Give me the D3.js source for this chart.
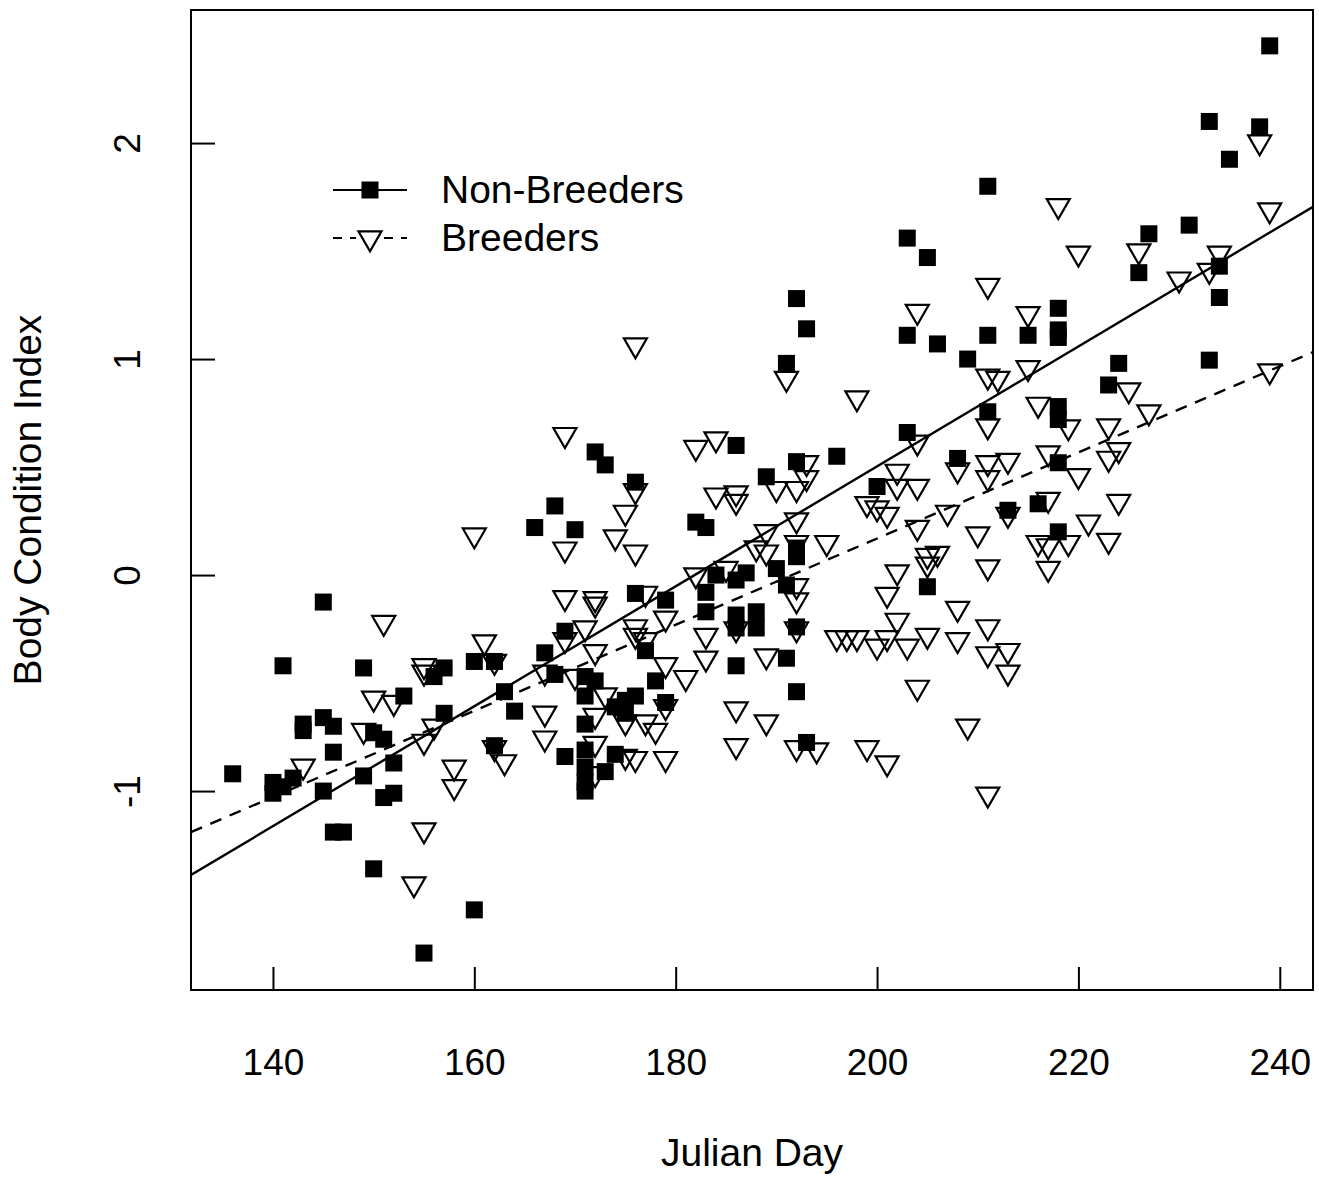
<!DOCTYPE html>
<html>
<head>
<meta charset="utf-8">
<script src="https://cdn.jsdelivr.net/npm/d3@7/dist/d3.min.js"></script>
<style>
  body { margin: 0; background: #fff; }
  text { font-family: "Liberation Sans", Arial, Helvetica, sans-serif; fill: #000; }
</style>
</head>
<body>
<div id="chart"></div>
<script>
// Non-Breeders: julian day and body condition index
const nbDay = [136, 140, 140, 141, 142, 141, 143, 143, 145, 145, 146, 146, 145, 146, 147, 149, 149, 150, 151, 150,
  152, 151, 152, 153, 156, 157, 157, 155, 160, 160, 162, 163, 164, 162, 167, 168, 169, 171, 172, 171,
  171, 174, 175, 176, 175, 177, 178, 169, 171, 171, 171, 171, 173, 174, 179, 176, 179, 172, 173, 176,
  168, 166, 170, 182, 183, 184, 186, 187, 190, 191, 192, 192, 183, 183, 186, 186, 188, 188, 186, 191,
  192, 192, 193, 186, 189, 192, 196, 192, 193, 191, 200, 203, 205, 211, 203, 205, 218, 218, 218, 203,
  206, 211, 215, 209, 211, 218, 218, 208, 218, 223, 224, 216, 213, 218, 239, 233, 238, 235, 231, 227,
  226, 234, 234, 233];
const nbBci = [-0.92, -0.96, -1.01, -0.98, -0.94, -0.42, -0.69, -0.72, -0.125, -0.66, -0.70, -0.82, -1.00, -1.19, -1.19, -0.43, -0.93, -0.73, -0.76, -1.36,
  -0.87, -1.03, -1.01, -0.56, -0.47, -0.43, -0.64, -1.75, -0.40, -1.55, -0.40, -0.54, -0.63, -0.79, -0.36, -0.46, -0.26, -0.47, -0.49, -0.56,
  -0.69, -0.61, -0.58, -0.56, -0.64, -0.35, -0.49, -0.84, -0.81, -0.89, -0.96, -1.00, -0.91, -0.83, -0.59, -0.085, -0.116, 0.57, 0.51, 0.43,
  0.32, 0.22, 0.21, 0.245, 0.22, 0.00, -0.023, 0.01, 0.03, -0.046, 0.125, 0.085, -0.08, -0.17, -0.185, -0.245, -0.17, -0.245, -0.42, -0.385,
  -0.24, -0.54, -0.775, 0.60, 0.455, 0.525, 0.55, 1.28, 1.14, 0.98, 0.41, 0.66, -0.054, 1.80, 1.56, 1.47, 1.235, 1.135, 1.10, 1.11,
  1.07, 1.11, 1.11, 1.00, 0.756, 0.78, 0.72, 0.54, 0.52, 0.88, 0.98, 0.33, 0.30, 0.20, 2.45, 2.10, 2.075, 1.925, 1.62, 1.58,
  1.40, 1.43, 1.285, 0.995];

// Breeders: julian day and body condition index
const brDay = [143, 150, 152, 151, 155, 155, 156, 155, 149, 158, 158, 155, 154, 161, 162, 162, 163, 160, 167, 169,
  171, 172, 170, 173, 167, 167, 172, 175, 177, 172, 172, 175, 176, 179, 179, 178, 176, 176, 177, 179,
  181, 179, 169, 172, 172, 177, 176, 169, 174, 175, 176, 176, 169, 182, 184, 182, 183, 183, 186, 186,
  189, 186, 189, 192, 184, 186, 186, 185, 188, 189, 189, 190, 192, 193, 193, 192, 192, 195, 192, 192,
  191, 198, 199, 200, 201, 192, 194, 199, 201, 196, 197, 198, 200, 201, 203, 205, 208, 202, 202, 204,
  204, 207, 202, 201, 205, 205, 206, 202, 208, 211, 217, 211, 211, 213, 213, 204, 209, 211, 218, 220,
  211, 204, 215, 211, 212, 215, 211, 216, 219, 204, 208, 211, 213, 217, 211, 220, 223, 224, 217, 224,
  221, 219, 216, 217, 223, 223, 225, 227, 213, 210, 238, 239, 226, 234, 233, 230, 239];
const brBci = [-0.885, -0.57, -0.59, -0.22, -0.42, -0.45, -0.70, -0.77, -0.72, -0.89, -0.98, -1.18, -1.43, -0.31, -0.40, -0.80, -0.865, 0.185, -0.45, -0.30,
  -0.245, -0.355, -0.47, -0.555, -0.64, -0.755, -0.65, -0.68, -0.68, -0.78, -0.92, -0.84, -0.85, -0.85, -0.61, -0.72, -0.24, -0.28, -0.30, -0.415,
  -0.475, -0.20, -0.105, -0.11, -0.135, -0.085, 0.106, 0.12, 0.176, 0.29, 0.39, 1.065, 0.65, 0.59, 0.63, 0.00, -0.28, -0.385, -0.62, -0.25,
  -0.375, -0.79, -0.68, -0.25, 0.37, 0.38, 0.34, 0.03, 0.125, 0.106, 0.20, 0.40, 0.40, 0.45, 0.52, 0.255, 0.15, 0.15, -0.05, -0.116,
  0.91, 0.82, 0.33, 0.31, 0.28, -0.80, -0.81, -0.80, -0.87, -0.29, -0.29, -0.29, -0.33, -0.29, -0.33, -0.28, -0.30, 0.48, 0.41, 0.41,
  0.22, 0.29, 0.014, -0.09, 0.09, 0.05, 0.10, -0.21, -0.155, 0.037, 0.03, -0.24, -0.365, -0.35, -0.45, -0.52, -0.70, -1.015, 1.71, 1.49,
  1.34, 1.22, 1.21, 0.92, 0.91, 0.96, 0.69, 0.79, 0.685, 0.615, 0.486, 0.52, 0.53, 0.565, 0.45, 0.46, 0.54, 0.58, 0.35, 0.34,
  0.245, 0.15, 0.15, 0.135, 0.16, 0.69, 0.857, 0.755, 0.28, 0.19, 2.005, 1.69, 1.50, 1.49, 1.41, 1.37, 0.945];

// fitted lines (intercept, slope)
const fitNames = ['Non-Breeders', 'Breeders'];
const fitIntercept = [-5.049, -3.819];
const fitSlope = [0.02776, 0.01994];

const xTicks = [140, 160, 180, 200, 220, 240];
const yTicks = [-1, 0, 1, 2];

const width = 1319, height = 1177;
const box = { left: 191, right: 1313, top: 10, bottom: 990 };

const svg = d3.select('#chart').append('svg')
  .attr('width', width)
  .attr('height', height);

const x = d3.scaleLinear().domain([131.86, 243.3]).range([box.left, box.right]);
const y = d3.scaleLinear().domain([-1.921, 2.616]).range([box.bottom, box.top]);

// plot frame
svg.append('rect')
  .attr('x', box.left).attr('y', box.top)
  .attr('width', box.right - box.left).attr('height', box.bottom - box.top)
  .attr('fill', 'none').attr('stroke', '#000').attr('stroke-width', 2);

// x axis, ticks pointing inward
const xAxis = svg.append('g')
  .attr('transform', `translate(0,${box.bottom})`)
  .call(d3.axisBottom(x).tickValues(xTicks).tickSize(-23).tickPadding(59)
    .tickFormat((d) => String(d)));
xAxis.select('.domain').remove();
xAxis.selectAll('line').attr('stroke', '#000').attr('stroke-width', 2);
xAxis.selectAll('text').attr('font-size', 37).attr('font-family', null);

// y axis, ticks inward, labels rotated like R
const yAxis = svg.append('g')
  .attr('transform', `translate(${box.left},0)`)
  .call(d3.axisLeft(y).tickValues(yTicks).tickSize(-24)
    .tickFormat((d) => String(d)));
yAxis.select('.domain').remove();
yAxis.selectAll('line').attr('stroke', '#000').attr('stroke-width', 2);
yAxis.selectAll('text')
  .attr('x', 0).attr('dy', null)
  .attr('font-size', 37).attr('font-family', null)
  .attr('text-anchor', 'middle')
  .attr('transform', 'translate(-51,0) rotate(-90)');

// axis titles
svg.append('text')
  .attr('x', (box.left + box.right) / 2).attr('y', 1166)
  .attr('text-anchor', 'middle').attr('font-size', 39)
  .text('Julian Day');

svg.append('text')
  .attr('transform', `translate(41,${(box.top + box.bottom) / 2}) rotate(-90)`)
  .attr('text-anchor', 'middle').attr('font-size', 39)
  .text('Body Condition Index');

// symbol paths
const sq = 17;
function triPath(cx, cy) {
  const r = 13.3, hw = 0.866 * r;
  return `M${cx - hw},${cy - r / 2}L${cx + hw},${cy - r / 2}L${cx},${cy + r}Z`;
}

svg.append('clipPath').attr('id', 'plotclip')
  .append('rect')
  .attr('x', box.left).attr('y', box.top)
  .attr('width', box.right - box.left).attr('height', box.bottom - box.top);

const plot = svg.append('g').attr('clip-path', 'url(#plotclip)');

// non-breeders: filled squares
plot.selectAll('.nb')
  .data(d3.range(nbDay.length))
  .join('rect')
  .attr('class', 'nb')
  .attr('x', (i) => x(nbDay[i]) - sq / 2)
  .attr('y', (i) => y(nbBci[i]) - sq / 2)
  .attr('width', sq).attr('height', sq)
  .attr('fill', '#000');

// breeders: open down triangles
plot.selectAll('.br')
  .data(d3.range(brDay.length))
  .join('path')
  .attr('class', 'br')
  .attr('d', (i) => triPath(x(brDay[i]), y(brBci[i])))
  .attr('fill', 'none')
  .attr('stroke', '#000')
  .attr('stroke-width', 2.2);

// regression lines
const dashes = [null, '12,9'];
const xd = x.domain();
fitNames.forEach((name, k) => {
  plot.append('line')
    .attr('x1', x(xd[0])).attr('y1', y(fitIntercept[k] + fitSlope[k] * xd[0]))
    .attr('x2', x(xd[1])).attr('y2', y(fitIntercept[k] + fitSlope[k] * xd[1]))
    .attr('stroke', '#000').attr('stroke-width', 2.4)
    .attr('stroke-dasharray', dashes[k]);
});

// legend
const legend = svg.append('g');
const legY = [190, 238];
fitNames.forEach((name, k) => {
  legend.append('line')
    .attr('x1', 333).attr('x2', 407)
    .attr('y1', legY[k]).attr('y2', legY[k])
    .attr('stroke', '#000').attr('stroke-width', 2.2)
    .attr('stroke-dasharray', dashes[k] ? '9,8' : null);
  legend.append('text')
    .attr('x', 441).attr('y', legY[k] + 13)
    .attr('font-size', 39)
    .text(name);
});
legend.append('rect')
  .attr('x', 370 - sq / 2).attr('y', legY[0] - sq / 2)
  .attr('width', sq).attr('height', sq).attr('fill', '#000');
legend.append('rect')
  .attr('x', 356).attr('y', legY[1] - 10)
  .attr('width', 28).attr('height', 24).attr('fill', '#fff');
legend.append('path')
  .attr('d', triPath(370, legY[1]))
  .attr('fill', 'none').attr('stroke', '#000').attr('stroke-width', 2.2);
</script>
</body>
</html>
